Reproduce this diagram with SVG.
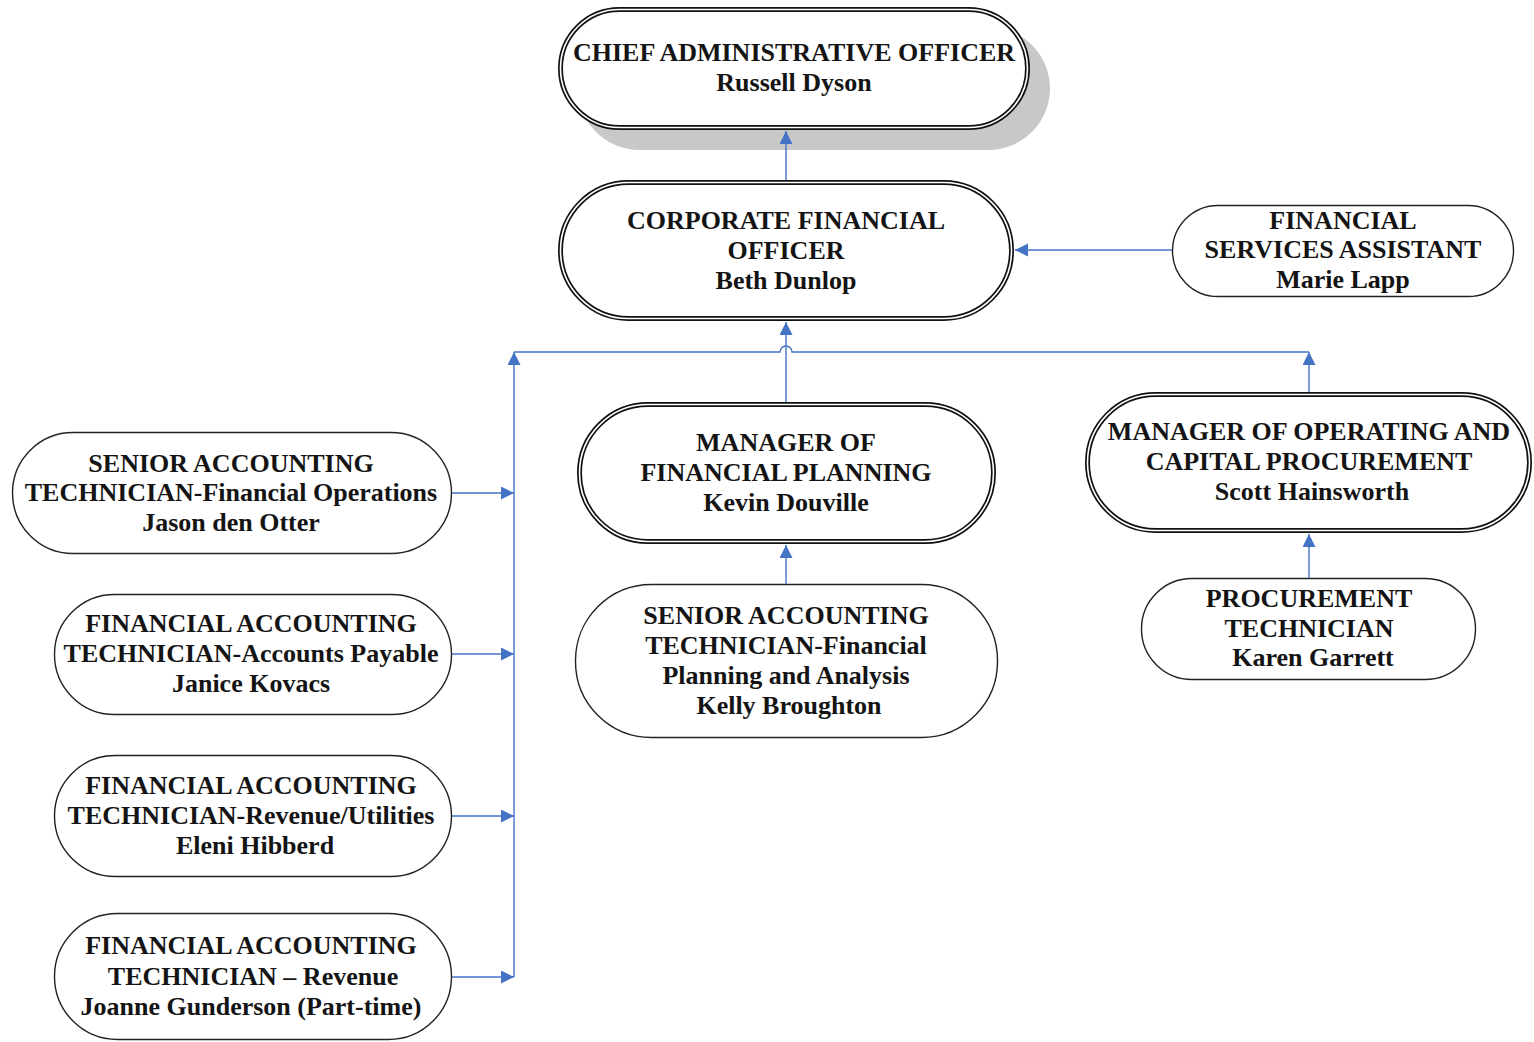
<svg xmlns="http://www.w3.org/2000/svg" width="1534" height="1042" viewBox="0 0 1534 1042">
<style>
  .bg { fill: #ffffff; }
  .dbl { fill: #ffffff; stroke: #111111; stroke-width: 5; }
  .dbl-in { fill: none; stroke: #ffffff; stroke-width: 1.6; }
  .sgl { fill: #ffffff; stroke: #222222; stroke-width: 1.4; }
  .shadow { fill: #c8c8c8; }
  text { font-family: "Liberation Serif", "Times New Roman", serif; font-size: 26px; font-weight: bold; fill: #141414; text-anchor: middle; }
  .conn { fill: none; stroke: #4472c4; stroke-width: 1.4; }
</style>
<defs>
  <marker id="arrow" markerUnits="userSpaceOnUse" markerWidth="14" markerHeight="14" refX="13" refY="6.5" orient="auto">
    <path d="M0,0 L13,6.5 L0,13 z" fill="#4472c4"/>
  </marker>
</defs>
<rect class="bg" x="0" y="0" width="1534" height="1042"/>

<g id="cao">
  <rect class="shadow" x="578" y="27" width="472" height="123" rx="61.5"/>
  <rect class="dbl" x="560.5" y="9.5" width="467" height="118" rx="59"/>
  <rect class="dbl-in" x="560.5" y="9.5" width="467" height="118" rx="59"/>
  <text x="794" y="61">CHIEF ADMINISTRATIVE OFFICER</text>
  <text x="794" y="91">Russell Dyson</text>
</g>

<g id="cfo">
  <rect class="dbl" x="560.5" y="182.5" width="451" height="136" rx="68"/>
  <rect class="dbl-in" x="560.5" y="182.5" width="451" height="136" rx="68"/>
  <text x="786" y="229">CORPORATE FINANCIAL</text>
  <text x="786" y="259">OFFICER</text>
  <text x="786" y="289">Beth Dunlop</text>
</g>

<g id="fsa">
  <rect class="sgl" x="1172.5" y="205.5" width="341" height="91" rx="45.5"/>
  <text x="1343" y="229">FINANCIAL</text>
  <text x="1343" y="258">SERVICES ASSISTANT</text>
  <text x="1343" y="288">Marie Lapp</text>
</g>

<g id="mfp">
  <rect class="dbl" x="579.5" y="404.5" width="414" height="137" rx="68.5"/>
  <rect class="dbl-in" x="579.5" y="404.5" width="414" height="137" rx="68.5"/>
  <text x="786" y="451">MANAGER OF</text>
  <text x="786" y="481">FINANCIAL PLANNING</text>
  <text x="786" y="511">Kevin Douville</text>
</g>

<g id="mocp">
  <rect class="dbl" x="1087.5" y="394.5" width="442" height="136" rx="68"/>
  <rect class="dbl-in" x="1087.5" y="394.5" width="442" height="136" rx="68"/>
  <text x="1309" y="440">MANAGER OF OPERATING AND</text>
  <text x="1309" y="470">CAPITAL PROCUREMENT</text>
  <text x="1312" y="500">Scott Hainsworth</text>
</g>

<g id="sat-fpa">
  <rect class="sgl" x="575.5" y="584.5" width="422" height="153" rx="76"/>
  <text x="786" y="624">SENIOR ACCOUNTING</text>
  <text x="786" y="654">TECHNICIAN-Financial</text>
  <text x="786" y="684">Planning and Analysis</text>
  <text x="789" y="714">Kelly Broughton</text>
</g>

<g id="pt">
  <rect class="sgl" x="1141.5" y="578.5" width="334" height="101" rx="50.5"/>
  <text x="1309" y="607">PROCUREMENT</text>
  <text x="1309" y="637">TECHNICIAN</text>
  <text x="1313" y="666">Karen Garrett</text>
</g>

<g id="sat-fo">
  <rect class="sgl" x="12.5" y="432.5" width="439" height="121" rx="60.5"/>
  <text x="231" y="472">SENIOR ACCOUNTING</text>
  <text x="231" y="501">TECHNICIAN-Financial Operations</text>
  <text x="231" y="531">Jason den Otter</text>
</g>

<g id="fat-ap">
  <rect class="sgl" x="54.5" y="594.5" width="397" height="120" rx="60"/>
  <text x="251" y="632">FINANCIAL ACCOUNTING</text>
  <text x="251" y="662">TECHNICIAN-Accounts Payable</text>
  <text x="251" y="692">Janice Kovacs</text>
</g>

<g id="fat-ru">
  <rect class="sgl" x="54.5" y="755.5" width="397" height="121" rx="60.5"/>
  <text x="251" y="794">FINANCIAL ACCOUNTING</text>
  <text x="251" y="824">TECHNICIAN-Revenue/Utilities</text>
  <text x="255" y="854">Eleni Hibberd</text>
</g>

<g id="fat-r">
  <rect class="sgl" x="54.5" y="913.5" width="397" height="126" rx="63"/>
  <text x="251" y="954">FINANCIAL ACCOUNTING</text>
  <text x="253" y="985">TECHNICIAN – Revenue</text>
  <text x="251" y="1015">Joanne Gunderson (Part-time)</text>
</g>

<g id="connectors">
  <path class="conn" d="M786,180 L786,131" marker-end="url(#arrow)"/>
  <path class="conn" d="M1172,250 L1015,250" marker-end="url(#arrow)"/>
  <path class="conn" d="M786,402 L786,322" marker-end="url(#arrow)"/>
  <path class="conn" d="M514,352 L780,352 A6,6 0 0 1 792,352 L1309,352"/>
  <path class="conn" d="M514,977 L514,352" marker-end="url(#arrow)"/>
  <path class="conn" d="M1309,392 L1309,352" marker-end="url(#arrow)"/>
  <path class="conn" d="M786,584 L786,545" marker-end="url(#arrow)"/>
  <path class="conn" d="M1309,578 L1309,534" marker-end="url(#arrow)"/>
  <path class="conn" d="M452,493 L514,493" marker-end="url(#arrow)"/>
  <path class="conn" d="M452,654 L514,654" marker-end="url(#arrow)"/>
  <path class="conn" d="M452,816 L514,816" marker-end="url(#arrow)"/>
  <path class="conn" d="M452,977 L514,977" marker-end="url(#arrow)"/>
</g>
</svg>
